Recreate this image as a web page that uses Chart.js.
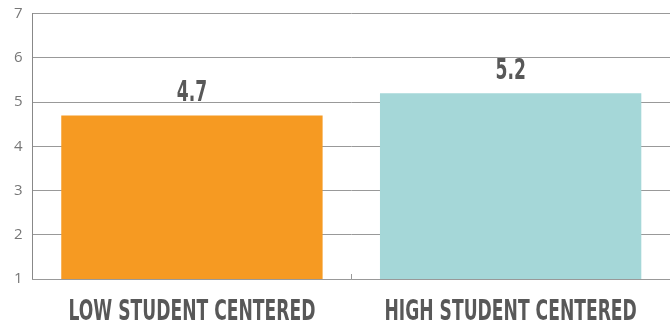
<!DOCTYPE html>
<html>
<head>
<meta charset="utf-8">
<script src="https://cdn.jsdelivr.net/npm/chart.js@4"></script>
<style>
  html, body { margin: 0; padding: 0; background: #fff; }
  #wrap { width: 670px; height: 324px; }
</style>
</head>
<body>
<div id="wrap"><canvas id="chart"></canvas></div>
<script>
// Chart data
const categories = ['LOW STUDENT CENTERED', 'HIGH STUDENT CENTERED'];
const scores = [4.7, 5.2];
const barColors = ['#F69A22', '#A5D7D8'];
const yTicks = [1, 2, 3, 4, 5, 6, 7];

const labelFont = 'bold 28px "DejaVu Sans", sans-serif';

// Draw text squeezed horizontally to mimic a condensed display face
function drawCondensed(ctx, text, x, y, sx) {
    ctx.save();
    ctx.translate(x, y);
    ctx.scale(sx, 1);
    ctx.fillText(text, 0, 0);
    ctx.restore();
}

// Value labels above bars and category labels below the axis
const textLabels = {
    id: 'textLabels',
    afterDatasetsDraw(chart) {
        const ctx = chart.ctx;
        const meta = chart.getDatasetMeta(0);
        ctx.save();
        ctx.font = labelFont;
        ctx.fillStyle = '#585858';
        ctx.textAlign = 'center';
        ctx.textBaseline = 'alphabetic';
        const sx = 247 / ctx.measureText(categories[0]).width;
        meta.data.forEach(function(bar, i) {
            drawCondensed(ctx, scores[i].toFixed(1), bar.x, bar.y - 14, sx);
            drawCondensed(ctx, categories[i], bar.x, 320, sx);
        });
        ctx.restore();
    }
};

// Small upward ticks between categories on the x axis
const categoryTicks = {
    id: 'categoryTicks',
    afterDraw(chart) {
        const ctx = chart.ctx;
        const x = chart.scales.x;
        const bottom = chart.chartArea.bottom;
        ctx.save();
        ctx.strokeStyle = '#999';
        ctx.lineWidth = 1;
        for (let i = 1; i < categories.length; i++) {
            const px = Math.round((x.getPixelForValue(i - 1) + x.getPixelForValue(i)) / 2) + 0.5;
            ctx.beginPath();
            ctx.moveTo(px, bottom);
            ctx.lineTo(px, bottom - 5);
            ctx.stroke();
        }
        ctx.restore();
    }
};

const ctx = document.getElementById('chart').getContext('2d');
new Chart(ctx, {
    type: 'bar',
    data: {
        labels: categories,
        datasets: [{
            data: scores,
            backgroundColor: barColors,
            borderWidth: 0,
            barPercentage: 0.82,
            categoryPercentage: 1.0
        }]
    },
    options: {
        responsive: true,
        maintainAspectRatio: false,
        animation: false,
        layout: { padding: { top: 0, right: 0, left: 4, bottom: 37 } },
        plugins: {
            legend: { display: false },
            tooltip: { enabled: false }
        },
        scales: {
            y: {
                min: 1,
                max: 7,
                afterBuildTicks: function(axis) {
                    axis.ticks = yTicks.map(v => ({ value: v }));
                },
                ticks: {
                    color: '#777',
                    padding: 10,
                    font: { family: '"Open Sans", sans-serif', size: 15, lineHeight: 0.5 }
                },
                grid: {
                    color: '#999',
                    lineWidth: 1,
                    drawTicks: false
                },
                border: { display: true, color: '#888', width: 1 }
            },
            x: {
                ticks: { display: false },
                grid: { display: false },
                border: { display: true, color: '#999', width: 1 }
            }
        }
    },
    plugins: [textLabels, categoryTicks]
});
</script>
</body>
</html>
